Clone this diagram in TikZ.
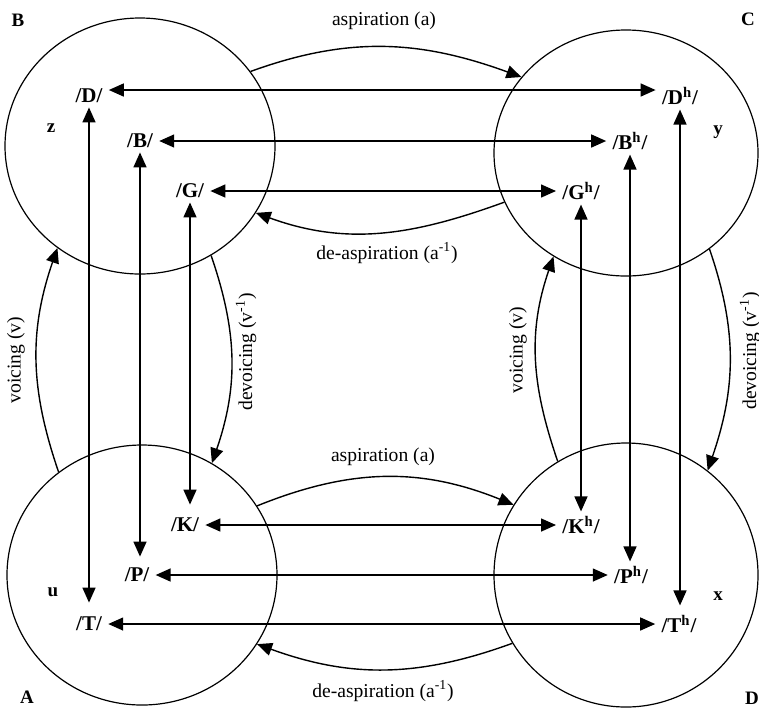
\documentclass[tikz,border=0pt]{standalone}
\usepackage{fontspec}
\setmainfont{Liberation Serif}
\usetikzlibrary{arrows.meta,shapes.geometric}

\begin{document}
\begin{tikzpicture}[x=0.5pt,y=0.5pt,
  region/.style={draw, ellipse, line width=0.6pt, inner sep=0pt},
  phon/.style={font=\fontsize{10.5}{12}\bfseries\selectfont, inner xsep=3pt, inner ysep=2pt},
  corner/.style={font=\fontsize{9.5}{11}\bfseries\selectfont, inner sep=0pt},
  proc/.style={font=\fontsize{9.8}{12}\selectfont, inner sep=0pt},
  link/.style={line width=0.75pt, {Triangle[length=7.5pt,width=6.5pt]}-{Triangle[length=7.5pt,width=6.5pt]}},
  change/.style={line width=0.7pt, -{Triangle[length=7.5pt,width=6.5pt]}}
]
\useasboundingbox (0,0) rectangle (759,-708);

% the four classes of stops
\node[region, minimum width=135pt, minimum height=128pt] (rB) at (140,-146) {};
\node[region, minimum width=132pt, minimum height=123pt] (rC) at (626,-153) {};
\node[region, minimum width=135pt, minimum height=130pt] (rA) at (142,-575) {};
\node[region, minimum width=132pt, minimum height=132pt] (rD) at (626,-575) {};

% corner letters and set names
\node[corner] (lB) at (18,-20) {B};
\node[corner] (lC) at (748,-19) {C};
\node[corner] (lA) at (27,-697) {A};
\node[corner] (lD) at (752,-698) {D};
\node[corner] (sz) at (51,-128) {z};
\node[corner] (sy) at (718,-132) {y};
\node[corner] (su) at (53,-592) {u};
\node[corner] (sx) at (718,-596) {x};

% phonemes
\node[phon] (pD)  at (89,-96)   {/D/};
\node[phon] (pB)  at (140,-141) {/B/};
\node[phon] (pG)  at (190,-191) {/G/};
\node[phon] (pDh) at (680,-96)  {/D\textsuperscript{h}/};
\node[phon] (pBh) at (630,-141) {/B\textsuperscript{h}/};
\node[phon] (pGh) at (581,-191) {/G\textsuperscript{h}/};
\node[phon] (pK)  at (185,-525) {/K/};
\node[phon] (pP)  at (137,-575) {/P/};
\node[phon] (pT)  at (89,-624)  {/T/};
\node[phon] (pKh) at (581,-525) {/K\textsuperscript{h}/};
\node[phon] (pPh) at (631,-575) {/P\textsuperscript{h}/};
\node[phon] (pTh) at (679,-624) {/T\textsuperscript{h}/};

% aspiration pairs
\draw[link] ([yshift=3pt]pD.east) -- ([yshift=3pt]pD.east -| pDh.west);
\draw[link] (pB.east) -- (pB.east -| pBh.west);
\draw[link] (pG.east) -- (pG.east -| pGh.west);
\draw[link] (pK.east) -- (pK.east -| pKh.west);
\draw[link] (pP.east) -- (pP.east -| pPh.west);
\draw[link] (pT.east) -- (pT.east -| pTh.west);

% voicing pairs
\draw[link, shorten >=5pt] (pD.south) -- (pD.south |- pT.north);
\draw[link, shorten >=3.5pt] (pB.south) -- (pB.south |- pP.north);
\draw[link, shorten >=4.5pt] (pG.south) -- (pG.south |- pK.north);
\draw[link] (pGh.south) -- (pGh.south |- pKh.north);
\draw[link] (pBh.south) -- (pBh.south |- pPh.north);
\draw[link, shorten >=2.5pt] (pDh.south) -- (pDh.south |- pTh.north);

% processes between the classes
\draw[change] (rB.34) to[out=20,in=160] (rC.144);
\draw[change] (rC.202) to[out=200,in=-20] (rB.-30);
\draw[change] (rA.31) to[out=22,in=158] (rD.148);
\draw[change] (rD.211) to[out=200,in=-20] (rA.-31);
\draw[change] (rA.129) to[out=109,in=251] (rB.231);
\draw[change] (rB.-57) to[out=-71,in=71] (rA.58);
\draw[change] (rD.121) to[out=109,in=251] (rC.235);
\draw[change] (rC.311) to[out=-71,in=71] (rD.52);

% process labels
\node[proc] (asp1) at (384,-21) {aspiration (a)};
\node[proc] (deasp1) at (387,-253) {de-aspiration (a\textsuperscript{-1})};
\node[proc] (asp2) at (383,-457) {aspiration (a)};
\node[proc] (deasp2) at (383,-691) {de-aspiration (a\textsuperscript{-1})};
\node[proc, rotate=90] (voi1) at (16,-360) {voicing (v)};
\node[proc, rotate=90] (dev1) at (246,-352) {devoicing (v\textsuperscript{-1})};
\node[proc, rotate=90] (voi2) at (518,-350) {voicing (v)};
\node[proc, rotate=90] (dev2) at (750,-351) {devoicing (v\textsuperscript{-1})};
\end{tikzpicture}
\end{document}
